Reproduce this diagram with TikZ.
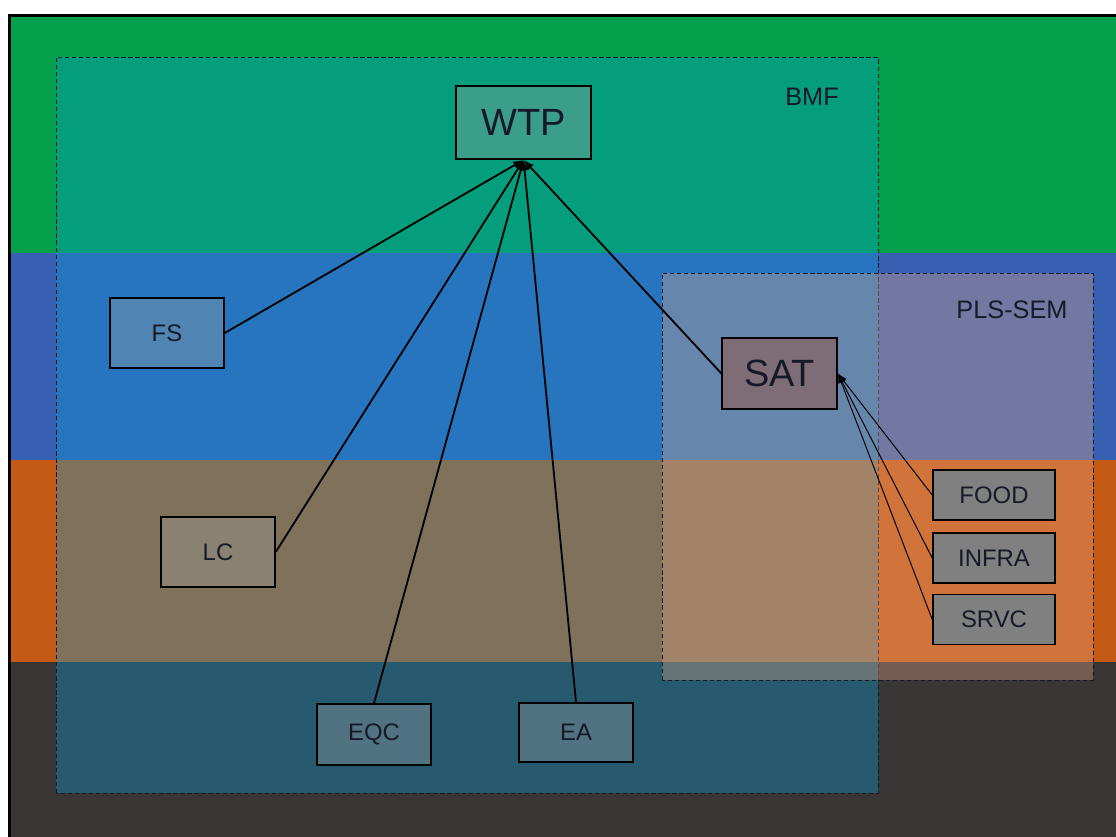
\documentclass[tikz,border=0pt]{standalone}
\usepackage{fontspec}
\setmainfont{Liberation Sans}
\usetikzlibrary{arrows.meta}

\definecolor{bandgreen}{RGB}{3,161,76}
\definecolor{bandblue}{RGB}{56,96,178}
\definecolor{bandorange}{RGB}{196,90,22}
\definecolor{banddark}{RGB}{58,54,54}
\definecolor{bmfcyan}{RGB}{7,155,213}
\definecolor{plspeach}{RGB}{236,170,135}
\definecolor{boxgray}{RGB}{160,160,160}
\definecolor{indgray}{RGB}{128,128,128}
\definecolor{satfill}{RGB}{126,108,118}
\definecolor{ink}{RGB}{22,26,40}

\begin{document}
\begin{tikzpicture}[
  >=Latex,
  lv/.style={draw=black,line width=1.1pt,fill=boxgray,fill opacity=0.35,
    text opacity=1,text=ink,inner sep=0pt,minimum width=2.85cm,
    minimum height=1.75cm,font=\fontsize{17}{20}\selectfont},
  big/.style={lv,font=\fontsize{27}{32}\selectfont},
  ind/.style={draw=black,line width=1.1pt,fill=indgray,text=ink,inner sep=0pt,
    minimum width=3.05cm,minimum height=1.25cm,font=\fontsize{17}{20}\selectfont},
  link/.style={->,line width=1.3pt,>={Latex[length=2.6mm,width=2mm]}},
  load/.style={->,line width=0.7pt,>={Latex[length=2.4mm,width=1.7mm]}},
  region/.style={dashed,draw=ink,line width=0.6pt,dash pattern=on 3pt off 2pt},
  tag/.style={text=ink,font=\fontsize{18}{21}\selectfont}
]
  \clip (0,0) rectangle (27.9,20.925);
  \fill[white] (0,0) rectangle (27.9,20.925);

  % background bands
  \foreach \col/\top/\bot in {bandgreen/20.55/14.6,bandblue/14.6/9.425,
      bandorange/9.425/4.375,banddark/4.375/-0.5}
    \fill[\col] (0.24,\top) rectangle (28.5,\bot);
  \draw[line width=2.2pt] (0.24,-1) |- (29,20.54);

  % method regions
  \draw[region,fill=bmfcyan,fill opacity=0.36] (1.4,1.1) rectangle (21.95,19.5);
  \draw[region,fill=plspeach,fill opacity=0.33] (16.55,3.925) rectangle (27.325,14.1);
  \node[tag] (bmf) at (20.3,18.5) {BMF};
  \node[tag] (pls) at (25.3,13.175) {PLS-SEM};

  % constructs
  \node[big,minimum width=3.375cm,minimum height=1.825cm] (WTP) at (13.09,17.86) {WTP};
  \node[lv] (FS) at (4.175,12.6) {FS};
  \node[lv] (LC) at (5.45,7.125) {LC};
  \node[lv,minimum height=1.525cm] (EQC) at (9.35,2.5625) {EQC};
  \node[lv,minimum height=1.475cm] (EA) at (14.4,2.6125) {EA};
  \node[big,fill=satfill,fill opacity=1,minimum width=2.875cm,
    minimum height=1.775cm] (SAT) at (19.49,11.59) {SAT};
  \foreach \name/\y in {FOOD/8.55,INFRA/6.975,SRVC/5.4375}
    \node[ind] (\name) at (24.85,\y) {\name};

  % paths into WTP
  \foreach \src/\side in {FS/east,LC/east,EQC/north,EA/north,SAT/west}
    \draw[link] (\src.\side) -- (WTP.south);

  % indicators of SAT
  \foreach \name in {FOOD,INFRA,SRVC}
    \draw[load] (\name.west) -- (SAT.east);
\end{tikzpicture}
\end{document}
